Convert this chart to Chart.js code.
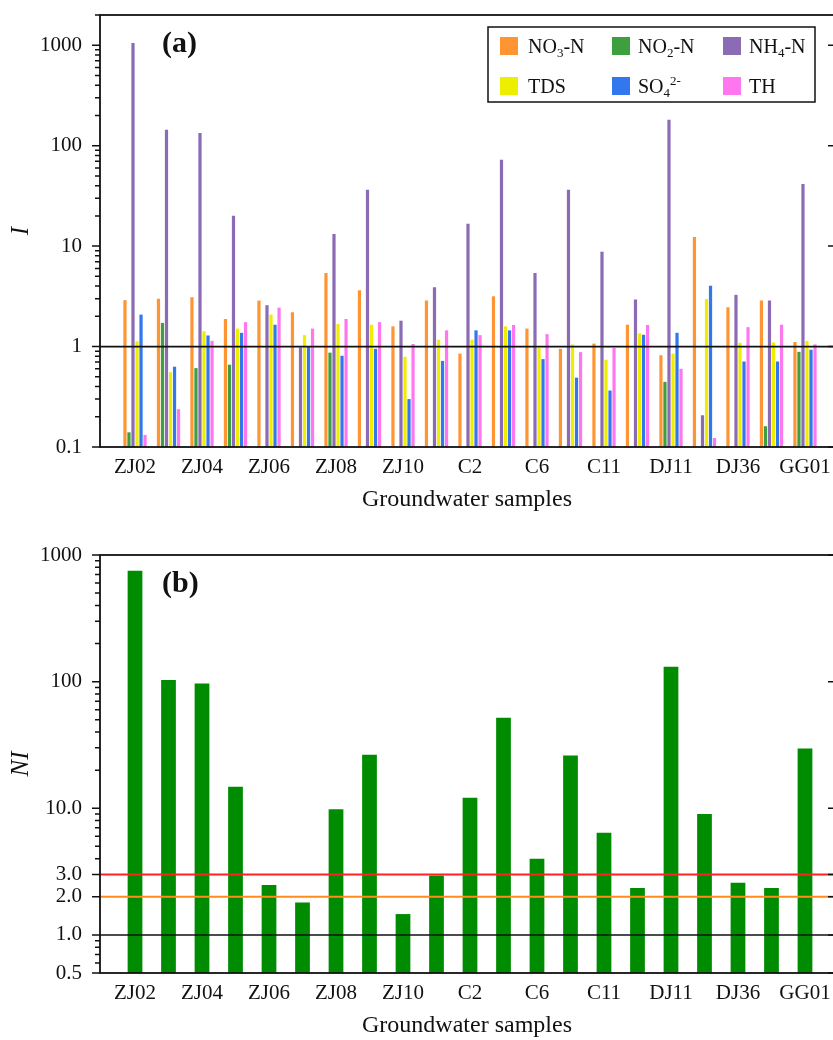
<!DOCTYPE html>
<html>
<head>
<meta charset="utf-8">
<script src="https://cdn.jsdelivr.net/npm/chart.js@4.4.0/dist/chart.umd.min.js"></script>
<style>
  html, body { margin: 0; padding: 0; background: #fff; overflow: hidden; width: 833px; height: 1040px; }
  .panel { position: absolute; left: 0; width: 840px; height: 520px; }
</style>
</head>
<body>
<div class="panel" style="top:0"><canvas id="top" width="840" height="520"></canvas></div>
<div class="panel" style="top:520px"><canvas id="bottom" width="840" height="520"></canvas></div>
<script>
// sample names (only every other one is labelled on the axis)
const samples = ['ZJ02', 'ZJ03', 'ZJ04', 'ZJ05', 'ZJ06', 'ZJ07', 'ZJ08', 'ZJ09', 'ZJ10', 'ZJ11',
                 'C2', 'C4', 'C6', 'C9', 'C11', 'DJ05', 'DJ11', 'DJ20', 'DJ36', 'DJ40', 'GG01'];
const seriesNames = ['NO₃-N', 'NO₂-N', 'NH₄-N', 'TDS', 'SO₄²⁻', 'TH'];

// panel (a): single factor index I
const no3 = [2.9, 3.0, 3.1, 1.88, 2.87, 2.2, 5.4, 3.63, 1.59, 2.87, 0.85, 3.17, 1.51, 0.95, 1.07, 1.65, 0.82, 12.3, 2.46, 2.87, 1.11];
const no2 = [0.14, 1.72, 0.61, 0.66, null, null, 0.87, null, null, null, null, null, null, null, null, null, 0.445, null, null, 0.161, 0.886];
const nh4 = [1050, 144, 134, 20.1, 2.58, 0.98, 13.2, 36.5, 1.81, 3.89, 16.7, 72.6, 5.4, 36.5, 8.8, 2.94, 181, 0.207, 3.27, 2.87, 41.6];
const tds = [1.13, 0.555, 1.42, 1.51, 2.08, 1.3, 1.68, 1.65, 0.79, 1.17, 1.17, 1.59, 0.97, 1.05, 0.74, 1.35, 0.85, 2.98, 1.09, 1.1, 1.14];
const so4 = [2.08, 0.63, 1.29, 1.37, 1.65, 0.99, 0.81, 0.95, 0.30, 0.72, 1.45, 1.45, 0.75, 0.49, 0.365, 1.31, 1.37, 4.04, 0.71, 0.71, 0.93];
const th  = [0.132, 0.238, 1.14, 1.75, 2.44, 1.51, 1.88, 1.75, 1.06, 1.45, 1.3, 1.64, 1.33, 0.88, 0.97, 1.64, 0.60, 0.123, 1.56, 1.65, 1.05];

// panel (b): Nemerow index NI
const ni = [750, 103, 96.6, 14.8, 2.48, 1.80, 9.84, 26.5, 1.46, 2.94, 12.1, 51.8, 4.0, 26.1, 6.4, 2.35, 131, 9.0, 2.58, 2.35, 29.6];

const topTickValues = [0.1, 1, 10, 100, 1000];
const topTickLabels = ['0.1', '1', '10', '100', '1000'];
const bottomTickValues = [0.5, 1, 2, 3, 10, 100, 1000];
const bottomTickLabels = ['0.5', '1.0', '2.0', '3.0', '10.0', '100', '1000'];

const seriesColors = ['#ff9433', '#3d9f3d', '#8c6bb5', '#eeee00', '#3377ee', '#ff77ee'];
const FONT = '"Liberation Serif", "Times New Roman", serif';
const INK = '#111';

// x range so that the first bar sits ~35px in from the left frame
const xMin = -1.045, xMax = 20.866;

function logTicks(min, max) {
  const out = [];
  for (let d = 0.1; d <= max; d *= 10) {
    for (let m = 1; m < 10; m++) {
      const v = +(d * m).toPrecision(3);
      if (v >= min && v <= max) out.push(v);
    }
  }
  return out;
}

const SUB = { '₀': '0', '₁': '1', '₂': '2', '₃': '3', '₄': '4', '₅': '5', '₆': '6', '₇': '7', '₈': '8', '₉': '9' };
const SUP = { '²': '2', '³': '3', '⁻': '-', '⁺': '+' };

function drawRich(ctx, text, x, y, size) {
  for (const ch of text) {
    let s = size, dy = 0, c = ch;
    if (SUB[ch]) { c = SUB[ch]; s = size * 0.65; dy = size * 0.22; }
    else if (SUP[ch]) { c = SUP[ch]; s = size * 0.65; dy = -size * 0.38; }
    ctx.font = s + 'px ' + FONT;
    ctx.fillText(c, x, y + dy);
    x += ctx.measureText(c).width;
  }
}

function drawLegend(chart) {
  const ctx = chart.ctx;
  ctx.lineWidth = 1.5;
  ctx.strokeStyle = INK;
  ctx.strokeRect(488, 27, 327, 75);
  const swX = [500, 612, 723], txX = [528, 638, 749], rowY = [37, 77];
  chart.data.datasets.forEach((ds, k) => {
    const col = k % 3, row = Math.floor(k / 3);
    ctx.fillStyle = ds.backgroundColor;
    ctx.fillRect(swX[col], rowY[row], 18, 18);
    ctx.fillStyle = INK;
    ctx.textAlign = 'left';
    ctx.textBaseline = 'alphabetic';
    drawRich(ctx, ds.label, txX[col], rowY[row] + 16, 20);
  });
}

const deco = {
  id: 'deco',
  afterDatasetsDraw(chart, args, o) {
    const { ctx, chartArea: a } = chart;
    const y = chart.scales.y;
    ctx.save();
    o.lines.forEach(l => {
      const py = y.getPixelForValue(l.value);
      ctx.strokeStyle = l.color;
      ctx.lineWidth = l.width;
      ctx.beginPath();
      ctx.moveTo(a.left, py);
      ctx.lineTo(a.right, py);
      ctx.stroke();
    });
    ctx.strokeStyle = INK;
    ctx.lineWidth = 1.8;
    ctx.strokeRect(a.left, a.top, a.right - a.left, a.bottom - a.top);
    ctx.lineWidth = 1.5;
    ctx.beginPath();
    o.ticks.forEach(v => {
      const py = y.getPixelForValue(v);
      const major = o.major.includes(v);
      ctx.moveTo(a.left - (major ? 8 : 5), py);
      ctx.lineTo(a.left, py);
      if (major) { ctx.moveTo(a.right - 6, py); ctx.lineTo(a.right, py); }
    });
    ctx.stroke();
    ctx.fillStyle = INK;
    ctx.font = 'bold 30px ' + FONT;
    ctx.textAlign = 'left';
    ctx.textBaseline = 'alphabetic';
    ctx.fillText(o.label, a.left + 62, a.top + 37);
    if (o.legend) drawLegend(chart);
    ctx.restore();
  }
};

function xScale(height, titlePad) {
  return {
    type: 'linear', offset: false, min: xMin, max: xMax,
    grid: { display: false, drawTicks: false }, border: { display: false },
    afterBuildTicks: s => { s.ticks = samples.map((_, i) => ({ value: i })).filter(t => t.value % 2 === 0); },
    afterFit: s => { s.height = height; s.paddingLeft = 0; s.paddingRight = 0; },
    ticks: { autoSkip: false, maxRotation: 0, padding: 8, color: INK, font: { family: FONT, size: 21 },
             callback: v => samples[v] ?? '' },
    title: { display: true, text: 'Groundwater samples', color: INK, font: { family: FONT, size: 24 },
             padding: { top: 0, bottom: titlePad } }
  };
}

function yScale(min, max, values, labels, title) {
  const all = logTicks(min, max);
  return {
    type: 'logarithmic', min, max,
    grid: { display: false, drawTicks: false }, border: { display: false },
    afterBuildTicks: s => { s.ticks = all.map(v => ({ value: v })); },
    afterFit: s => { s.width = 100; s.paddingTop = 0; s.paddingBottom = 0; },
    ticks: { autoSkip: false, padding: 18, color: INK, font: { family: FONT, size: 21 },
             callback: v => { const i = values.indexOf(v); return i < 0 ? '' : labels[i]; } },
    title: { display: true, text: title, color: INK, font: { family: FONT, size: 25, style: 'italic' },
             padding: { top: 6, bottom: 0 } }
  };
}

new Chart(document.getElementById('top'), {
  type: 'bar',
  data: {
    datasets: [no3, no2, nh4, tds, so4, th].map((vals, k) => ({
      label: seriesNames[k],
      data: vals.map((v, i) => ({ x: i, y: v })),
      backgroundColor: seriesColors[k],
      barPercentage: 0.8,
      categoryPercentage: 0.72
    }))
  },
  options: {
    responsive: false, animation: false,
    layout: { padding: { top: 15, right: 6, left: 0, bottom: 0 } },
    plugins: {
      legend: { display: false }, tooltip: { enabled: false },
      deco: {
        label: '(a)', legend: true,
        lines: [{ value: 1, color: '#111', width: 1.8 }],
        ticks: logTicks(0.1, 2000), major: topTickValues
      }
    },
    scales: { x: xScale(73, 6), y: yScale(0.1, 2000, topTickValues, topTickLabels, 'I') }
  },
  plugins: [deco]
});

new Chart(document.getElementById('bottom'), {
  type: 'bar',
  data: {
    datasets: [{
      label: 'NI',
      data: ni.map((v, i) => ({ x: i, y: v })),
      backgroundColor: '#008c00',
      barPercentage: 0.44,
      categoryPercentage: 1
    }]
  },
  options: {
    responsive: false, animation: false,
    layout: { padding: { top: 35, right: 6, left: 0, bottom: 0 } },
    plugins: {
      legend: { display: false }, tooltip: { enabled: false },
      deco: {
        label: '(b)', legend: false,
        lines: [
          { value: 1, color: '#111', width: 1.5 },
          { value: 2, color: '#ff8c1a', width: 2 },
          { value: 3, color: '#ff2222', width: 2 }
        ],
        ticks: logTicks(0.5, 1000), major: bottomTickValues
      }
    },
    scales: { x: xScale(67, 0), y: yScale(0.5, 1000, bottomTickValues, bottomTickLabels, 'NI') }
  },
  plugins: [deco]
});
</script>
</body>
</html>
